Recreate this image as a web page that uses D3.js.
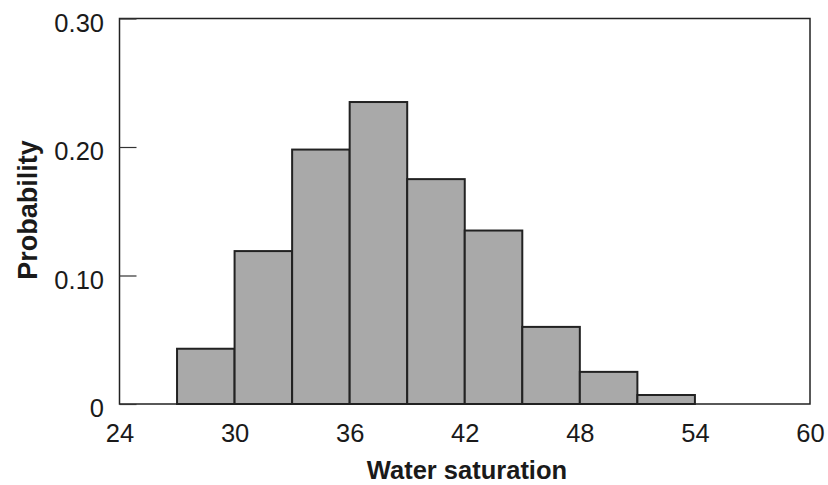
<!DOCTYPE html>
<html>
<head>
<meta charset="utf-8">
<script src="https://cdn.jsdelivr.net/npm/d3@7"></script>
<style>
  html, body { margin: 0; padding: 0; background: #fff; }
  svg { display: block; }
  text { font-family: "Liberation Sans", Arial, sans-serif; fill: #1a1a1a; }
</style>
</head>
<body>
<script>
// Histogram bins (Water saturation) and probabilities
const binStarts = [27, 30, 33, 36, 39, 42, 45, 48, 51];
const binWidth = 3;
const probabilities = [0.043, 0.119, 0.198, 0.235, 0.175, 0.135, 0.060, 0.025, 0.007];
const xTicks = [24, 30, 36, 42, 48, 54, 60];
const yTicks = [0, 0.10, 0.20, 0.30];
const yTickLabels = ["0", "0.10", "0.20", "0.30"];
const xTitle = "Water saturation";
const yTitle = "Probability";

const W = 828, H = 485;
const m = { left: 119.5, right: 810, top: 18.5, bottom: 404 };

const svg = d3.select("body").append("svg").attr("width", W).attr("height", H);

const x = d3.scaleLinear().domain([24, 60]).range([m.left, m.right]);
const y = d3.scaleLinear().domain([0, 0.30]).range([m.bottom, m.top]);

// bars
svg.append("g").selectAll("rect")
  .data(binStarts.map((s, i) => ({ s, p: probabilities[i] })))
  .join("rect")
  .attr("x", d => x(d.s))
  .attr("width", d => x(d.s + binWidth) - x(d.s))
  .attr("y", d => y(d.p))
  .attr("height", d => y(0) - y(d.p))
  .attr("fill", "#a9a9a9")
  .attr("stroke", "#222")
  .attr("stroke-width", 2);

// frame
svg.append("rect")
  .attr("x", m.left).attr("y", m.top)
  .attr("width", m.right - m.left).attr("height", m.bottom - m.top)
  .attr("fill", "none").attr("stroke", "#222").attr("stroke-width", 1.5);

// y axis (ticks inward)
const yAxis = d3.axisRight(y).tickValues(yTicks).tickSize(17)
  .tickFormat((d, i) => yTickLabels[i]);
const gy = svg.append("g").attr("transform", `translate(${m.left},0)`).call(yAxis);
gy.select(".domain").remove();
gy.selectAll(".tick line").attr("stroke", "#333").attr("stroke-width", 1.2);
gy.selectAll(".tick text")
  .attr("x", -15.5).attr("dy", null).attr("y", 12.5)
  .attr("text-anchor", "end")
  .style("font-size", "25.5px").attr("fill", "#1a1a1a");

// x axis (labels only)
const xAxis = d3.axisBottom(x).tickValues(xTicks).tickSize(0).tickFormat(d3.format("d"));
const gx = svg.append("g").attr("transform", `translate(0,${m.bottom})`).call(xAxis);
gx.select(".domain").remove();
gx.selectAll(".tick line").remove();
gx.selectAll(".tick text")
  .attr("y", 37.5).attr("dy", null)
  .style("font-size", "25.5px").attr("fill", "#1a1a1a");

// titles
svg.append("text")
  .attr("x", 467).attr("y", 479)
  .attr("text-anchor", "middle")
  .style("font-size", "25.5px").style("font-weight", "bold")
  .text(xTitle);

svg.append("text")
  .attr("transform", `translate(36.5,210) rotate(-90)`)
  .attr("text-anchor", "middle")
  .style("font-size", "27px").style("font-weight", "bold")
  .text(yTitle);
</script>
</body>
</html>
